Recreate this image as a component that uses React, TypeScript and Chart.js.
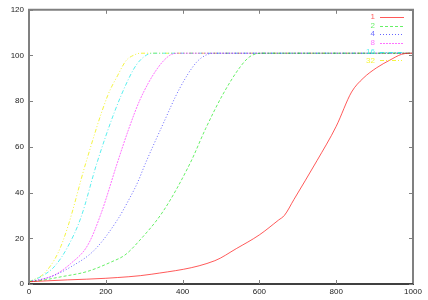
import { useEffect, useRef } from 'react';
import { Chart, registerables } from 'chart.js';

Chart.register(...registerables);

// Series labels (legend) and colours
const seriesLabels = ['1', '2', '4', '8', '16', '32'];
const seriesColors = [
  'rgba(255,0,0,0.65)',
  'rgba(0,230,0,0.6)',
  'rgba(0,0,255,0.6)',
  'rgba(255,0,255,0.55)',
  'rgba(0,230,230,0.65)',
  'rgba(240,240,0,0.75)',
];
const seriesDashes: number[][] = [[], [3, 2], [1, 2], [2, 1], [4, 2, 1, 2], [4, 2, 1, 2, 1, 2]];

// Series 1 (red)
const s1x = [0, 100, 200, 320, 484, 540, 600, 650, 665, 690, 750, 800, 840, 870, 905, 940, 970, 990, 1000];
const s1y = [1, 1.8, 2.5, 4.3, 10.2, 15.5, 21.5, 28, 30, 37, 54, 69, 84, 90, 94.6, 98, 100.5, 101, 101];
// Series 2 (green)
const s2x = [0, 25, 85, 150, 215, 250, 285, 350, 420, 460, 505, 550, 575, 605, 1000];
const s2y = [1, 1.4, 3.2, 5.4, 9.7, 12.7, 18.5, 32, 53, 68, 83, 95, 99.5, 101, 101];
// Series 4 (blue)
const s4x = [0, 15, 57, 110, 170, 230, 262, 283, 303, 349, 392, 436, 465, 480, 1000];
const s4y = [1, 1.4, 3.2, 7.6, 14.8, 28, 37.5, 44.5, 52.7, 70, 85.5, 97, 100.5, 101, 101];
// Series 8 (magenta)
const s8x = [0, 23, 66, 109, 153, 188, 230, 260, 290, 333, 366, 388, 1000];
const s8y = [1, 1.7, 3.9, 9, 17, 31, 53, 68, 81, 94, 100, 101, 101];
// Series 16 (cyan)
const s16x = [0, 31, 66, 101, 135, 177, 222, 260, 280, 300, 320, 1000];
const s16y = [1, 3.2, 7.6, 16.3, 29, 53, 75, 90, 96, 99.5, 101, 101];
// Series 32 (yellow)
const s32x = [0, 10, 40, 75, 101, 148, 205, 231, 253, 275, 290, 1000];
const s32y = [1, 1.7, 4.7, 13.4, 25, 53, 82.5, 91.3, 97.8, 100.3, 101, 101];

const seriesX = [s1x, s2x, s4x, s8x, s16x, s32x];
const seriesY = [s1y, s2y, s4y, s8y, s16y, s32y];

const FONT = '"Liberation Sans", Arial, sans-serif';

const framePlugin = {
  id: 'gnuFrame',
  afterDatasetsDraw(chart: any) {
    const { ctx, chartArea } = chart;
    const { left, right, top, bottom } = chartArea;
    const xs = chart.scales.x;
    const ys = chart.scales.y;
    ctx.save();
    // frame
    ctx.lineWidth = 2;
    ctx.strokeStyle = '#808080';
    ctx.beginPath();
    ctx.moveTo(left, bottom);
    ctx.lineTo(left, top);
    ctx.lineTo(right, top);
    ctx.lineTo(right, bottom);
    ctx.stroke();
    ctx.strokeStyle = '#404040';
    ctx.beginPath();
    ctx.moveTo(left - 1, bottom);
    ctx.lineTo(right + 1, bottom);
    ctx.stroke();
    // inward ticks, mirrored
    ctx.lineWidth = 1;
    ctx.strokeStyle = '#808080';
    const tl = 4;
    xs.ticks.forEach((t: any) => {
      const px = Math.round(xs.getPixelForValue(t.value)) + 0.5;
      ctx.beginPath();
      ctx.moveTo(px, bottom);
      ctx.lineTo(px, bottom - tl);
      ctx.moveTo(px, top);
      ctx.lineTo(px, top + tl);
      ctx.stroke();
    });
    ys.ticks.forEach((t: any) => {
      const py = Math.round(ys.getPixelForValue(t.value)) + 0.5;
      ctx.beginPath();
      ctx.moveTo(left, py);
      ctx.lineTo(left + tl, py);
      ctx.moveTo(right, py);
      ctx.lineTo(right - tl, py);
      ctx.stroke();
    });
    // legend: label text right-aligned, then a line sample
    ctx.font = '8px ' + FONT;
    ctx.textAlign = 'right';
    ctx.textBaseline = 'middle';
    chart.data.datasets.forEach((ds: any, i: number) => {
      const y = top + 7 + i * 8.7;
      ctx.fillStyle = ds.borderColor;
      ctx.fillText(ds.label, right - 38, y);
      ctx.strokeStyle = ds.borderColor;
      ctx.lineWidth = 1;
      ctx.setLineDash(ds.borderDash || []);
      ctx.beginPath();
      ctx.moveTo(right - 33, Math.round(y) + 0.5);
      ctx.lineTo(right - 9, Math.round(y) + 0.5);
      ctx.stroke();
      ctx.setLineDash([]);
    });
    ctx.restore();
  },
};

export default function App() {
  const ref = useRef<HTMLCanvasElement | null>(null);
  useEffect(() => {
    if (!ref.current) return;
    const datasets = seriesLabels.map((label, i) => ({
      label,
      data: seriesX[i].map((x, j) => ({ x, y: seriesY[i][j] })),
      borderColor: seriesColors[i],
      backgroundColor: seriesColors[i],
      borderDash: seriesDashes[i],
      borderWidth: 1,
      pointRadius: 0,
      fill: false,
      cubicInterpolationMode: 'monotone' as const,
    }));
    const chart = new Chart(ref.current, {
      type: 'line',
      data: { datasets },
      options: {
        responsive: false,
        animation: false,
        layout: { padding: { top: 9, right: 15, left: 0, bottom: 0 } },
        plugins: { legend: { display: false }, tooltip: { enabled: false } },
        scales: {
          x: {
            type: 'linear',
            min: 0,
            max: 1000,
            grid: { display: false, drawTicks: false },
            border: { display: false },
            ticks: {
              stepSize: 200, maxRotation: 0, autoSkip: false, padding: 3, color: '#222',
              font: { size: 8, family: FONT },
              callback: (v: any) => String(v),
            },
            afterFit: (s: any) => { s.height = 16; },
          },
          y: {
            type: 'linear',
            min: 0,
            max: 120,
            grid: { display: false, drawTicks: false },
            border: { display: false },
            ticks: {
              stepSize: 20, padding: 5, color: '#222',
              font: { size: 8, family: FONT },
              callback: (v: any) => String(v),
            },
            afterFit: (s: any) => { s.width = 29; },
          },
        },
      },
      plugins: [framePlugin],
    });
    return () => chart.destroy();
  }, []);
  return (
    <div style={{ position: 'fixed', left: 0, top: 0, width: 428, height: 300, background: '#fff' }}>
      <canvas ref={ref} width={428} height={300} />
    </div>
  );
}
